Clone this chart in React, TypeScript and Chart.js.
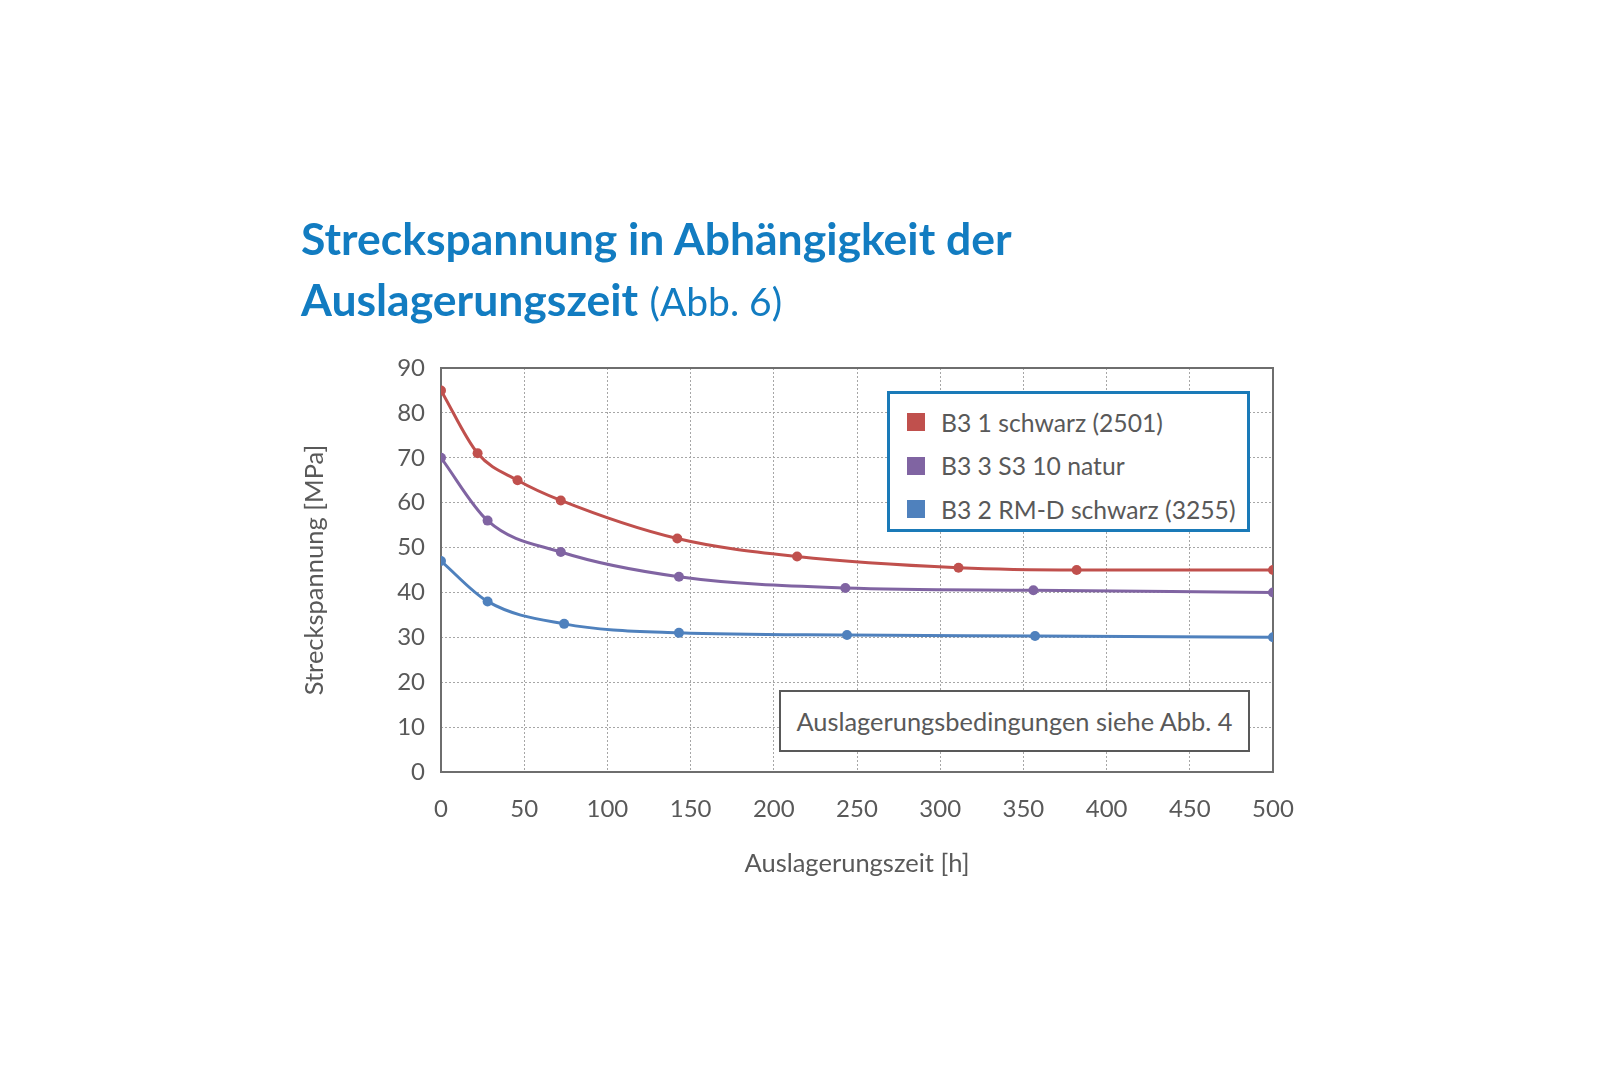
import React, { useEffect, useRef } from "react";
import Chart from "chart.js/auto";

const seriesNames = ["B3 1 schwarz (2501)", "B3 3 S3 10 natur", "B3 2 RM-D schwarz (3255)"];
const seriesColors = ["#c0504d", "#8064a2", "#4f81bd"];

const redHours = [0, 22, 46, 72, 142, 214, 311, 382, 500];
const redValues = [85, 71, 65, 60.5, 52, 48, 45.5, 45, 45];

const purpleHours = [0, 28, 72, 143, 243, 356, 500];
const purpleValues = [70, 56, 49, 43.5, 41, 40.5, 40];

const blueHours = [0, 28, 74, 143, 244, 357, 500];
const blueValues = [47, 38, 33, 31, 30.5, 30.3, 30];

const FONT = "Lato, 'Open Sans', sans-serif";
const TEXT = "#595959";

const toPoints = (xs: number[], ys: number[]) => xs.map((x, i) => ({ x, y: ys[i] }));

const App = () => {
  const chartRef = useRef<HTMLCanvasElement>(null);

  useEffect(() => {
    const ctx = chartRef.current!.getContext("2d")!;
    const data = [
      toPoints(redHours, redValues),
      toPoints(purpleHours, purpleValues),
      toPoints(blueHours, blueValues),
    ];
    const myChart = new Chart(ctx, {
      type: "line",
      data: {
        datasets: data.map((d, i) => ({
          label: seriesNames[i],
          data: d,
          borderColor: seriesColors[i],
          backgroundColor: seriesColors[i],
          borderWidth: 3,
          pointRadius: 5,
          pointBorderWidth: 0,
          cubicInterpolationMode: "monotone" as const,
        })),
      },
      options: {
        animation: false,
        responsive: false,
        layout: { padding: { left: 299, top: 368, right: 334, bottom: 1080 - 772 - 107 } },
        plugins: { legend: { display: false }, tooltip: { enabled: false } },
        scales: {
          x: {
            type: "linear",
            min: 0,
            max: 500,
            afterFit: (s: any) => {
              s.height = 107;
            },
            ticks: { stepSize: 50, padding: 23, color: TEXT, font: { family: FONT, size: 24 } },
            grid: { color: "#a6a6a6", drawTicks: false },
            border: { display: false, dash: [2, 2] },
            title: {
              display: true,
              text: "Auslagerungszeit [h]",
              color: TEXT,
              padding: 0,
              font: { family: FONT, size: 25.5 },
            },
          },
          y: {
            min: 0,
            max: 90,
            afterFit: (s: any) => {
              s.width = 142;
            },
            ticks: { stepSize: 10, padding: 16, color: TEXT, font: { family: FONT, size: 24 } },
            grid: { color: "#a6a6a6", drawTicks: false },
            border: { display: false, dash: [2, 2] },
            title: {
              display: true,
              text: "Streckspannung [MPa]",
              color: TEXT,
              padding: 0,
              font: { family: FONT, size: 25.5 },
            },
          },
        },
      },
      plugins: [
        {
          id: "frame",
          beforeDatasetsDraw: (chart: any) => {
            const { left, right, top, bottom } = chart.chartArea;
            const c = chart.ctx;
            c.save();
            c.strokeStyle = "#6e6e6e";
            c.lineWidth = 2;
            c.setLineDash([]);
            c.strokeRect(left, top, right - left, bottom - top);
            c.restore();
          },
        },
      ],
    });

    return () => {
      myChart.destroy();
    };
  }, []);

  return (
    <div style={{ position: "absolute", left: 0, top: 0, width: 1607, height: 1080, background: "#fff" }}>
      <canvas
        ref={chartRef}
        width={1607}
        height={1080}
        style={{ position: "absolute", left: 0, top: 0, width: 1607, height: 1080 }}
      ></canvas>
      <div
        style={{
          position: "absolute",
          left: 301,
          top: 207,
          fontFamily: FONT,
          color: "#127cc1",
          fontSize: 44.5,
          lineHeight: "61px",
          whiteSpace: "nowrap",
        }}
      >
        <div style={{ fontWeight: 700 }}>Streckspannung in Abhängigkeit der</div>
        <div>
          <span style={{ fontWeight: 700 }}>Auslagerungszeit</span> <span style={{ fontSize: 39 }}>(Abb. 6)</span>
        </div>
      </div>
      <div
        style={{
          position: "absolute",
          left: 887,
          top: 391,
          width: 363 - 6,
          height: 141 - 6,
          border: "3px solid #1a7ab8",
          background: "#fff",
          fontFamily: FONT,
          fontSize: 24.7,
          color: TEXT,
        }}
      >
        {seriesNames.map((n, i) => (
          <div
            key={n}
            style={{
              position: "absolute",
              left: 17,
              top: 13 + i * 43.5,
              height: 30,
              display: "flex",
              alignItems: "center",
              whiteSpace: "nowrap",
            }}
          >
            <span
              style={{ display: "inline-block", width: 18, height: 18, background: seriesColors[i], marginRight: 16 }}
            ></span>
            {n}
          </div>
        ))}
      </div>
      <div
        style={{
          position: "absolute",
          left: 779,
          top: 690,
          width: 471 - 4,
          height: 62 - 4,
          border: "2px solid #595959",
          background: "#fff",
          fontFamily: FONT,
          fontSize: 25.4,
          color: TEXT,
          display: "flex",
          alignItems: "center",
          justifyContent: "center",
          whiteSpace: "nowrap",
        }}
      >
        Auslagerungsbedingungen siehe Abb. 4
      </div>
    </div>
  );
};

export default App;
